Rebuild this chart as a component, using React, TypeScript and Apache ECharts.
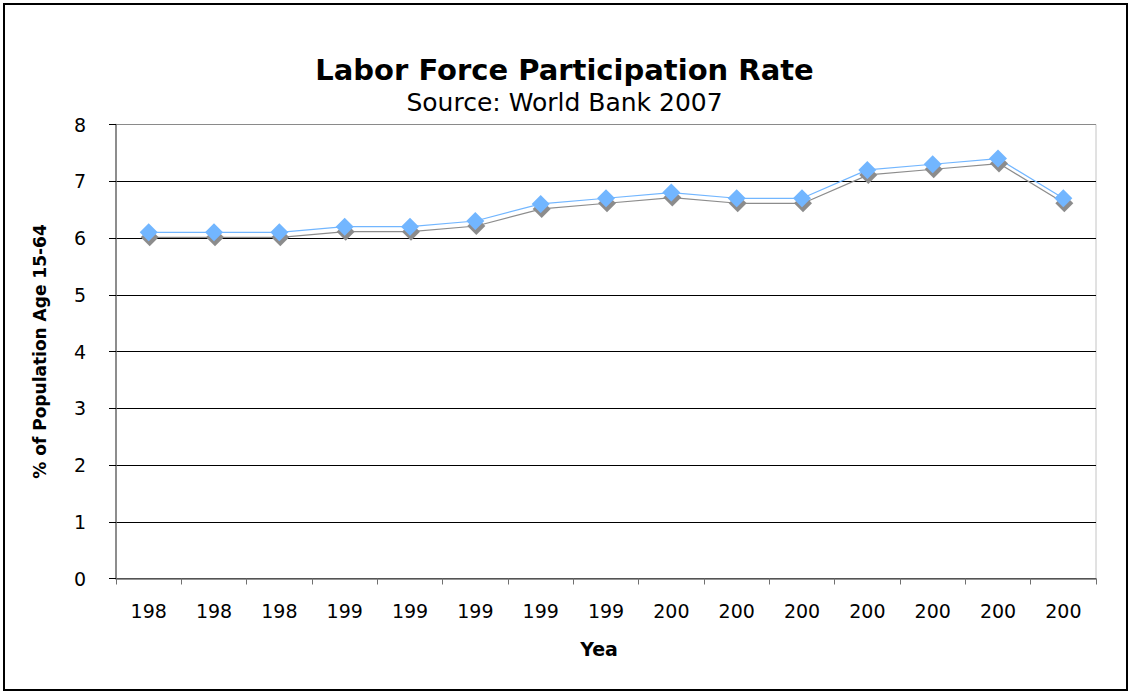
import React, { useEffect, useRef } from "react";
import * as echarts from "echarts";

const categories = ["198", "198", "198", "199", "199", "199", "199", "199", "200", "200", "200", "200", "200", "200", "200"];
const rateValues = [6.1, 6.1, 6.1, 6.2, 6.2, 6.3, 6.6, 6.7, 6.8, 6.7, 6.7, 7.2, 7.3, 7.4, 6.7];
const yTicks = { min: 0, max: 8, interval: 1 };

const FONT = "'DejaVu Sans', Verdana, sans-serif";

export default function App() {
  const ref = useRef<HTMLDivElement>(null);
  useEffect(() => {
    const chart = echarts.init(ref.current!, undefined, { renderer: "svg" });
    chart.setOption({
      animation: false,
      backgroundColor: "#ffffff",
      textStyle: { fontFamily: FONT },
      title: {
        text: "Labor Force Participation Rate",
        subtext: "Source: World Bank 2007",
        left: "center",
        top: 50,
        itemGap: 6,
        textStyle: { fontFamily: FONT, fontSize: 29, fontWeight: "bold", color: "#000" },
        subtextStyle: { fontFamily: FONT, fontSize: 25, color: "#000" },
      },
      graphic: [
        {
          type: "rect",
          shape: { x: 4, y: 4, width: 1123, height: 686 },
          style: { fill: "none", stroke: "#000", lineWidth: 2 },
          silent: true,
          z: 100,
        },
      ],
      grid: {
        left: 116,
        right: 33,
        top: 124.5,
        bottom: 113.5,
        show: true,
        borderColor: "#c4c4c4",
        borderWidth: 1,
        containLabel: false,
      },
      xAxis: {
        type: "category",
        data: categories,
        boundaryGap: true,
        name: "Yea",
        nameLocation: "middle",
        nameGap: 61,
        nameTextStyle: { fontFamily: FONT, fontSize: 19, fontWeight: "bold", color: "#000", padding: [0, 14, 0, 0] },
        axisLine: { show: true, lineStyle: { color: "#707070", width: 1.5 } },
        axisTick: { show: true, interval: 0, length: 6, inside: false, lineStyle: { color: "#707070" } },
        axisLabel: { interval: 0, margin: 23, fontFamily: FONT, fontSize: 19, color: "#000" },
        splitLine: { show: false },
      },
      yAxis: {
        type: "value",
        min: yTicks.min,
        max: yTicks.max,
        interval: yTicks.interval,
        name: "% of Population Age 15-64",
        nameLocation: "middle",
        nameGap: 68,
        nameRotate: 90,
        nameTextStyle: { fontFamily: FONT, fontSize: 17, fontWeight: "bold", color: "#000" },
        axisLine: { show: true, lineStyle: { color: "#707070", width: 1.5 } },
        axisTick: { show: true, length: 7, inside: false, lineStyle: { color: "#000" } },
        axisLabel: { margin: 30, fontFamily: FONT, fontSize: 19, color: "#000" },
        splitLine: {
          show: true,
          lineStyle: {
            color: ["#000", "#000", "#000", "#000", "#000", "#000", "#000", "#000", "#8a8a8a"],
            width: 1,
          },
        },
      },
      series: [
        {
          type: "line",
          data: rateValues,
          symbol: "diamond",
          symbolSize: 18,
          showSymbol: true,
          lineStyle: {
            color: "#72b6ff",
            width: 1.2,
            shadowColor: "#8c8c8c",
            shadowOffsetX: 1,
            shadowOffsetY: 5,
            shadowBlur: 0,
          },
          itemStyle: {
            color: "#72b6ff",
            borderWidth: 0,
            shadowColor: "#8c8c8c",
            shadowOffsetX: 1,
            shadowOffsetY: 5,
            shadowBlur: 0,
          },
          emphasis: { disabled: true },
        },
      ],
    });
    return () => chart.dispose();
  }, []);
  return (
    <div
      ref={ref}
      style={{ position: "fixed", left: 0, top: 0, width: 1129, height: 692, background: "#fff" }}
    />
  );
}
